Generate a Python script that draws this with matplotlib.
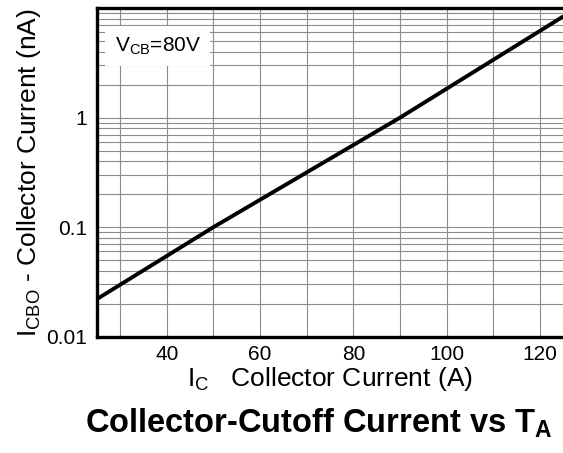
import matplotlib

matplotlib.use("Agg")
import matplotlib.pyplot as plt
from matplotlib.ticker import FixedLocator, LogLocator, NullFormatter

plt.rcParams["font.family"] = ["Liberation Sans", "DejaVu Sans"]
plt.rcParams["mathtext.fontset"] = "custom"
plt.rcParams["mathtext.rm"] = "Liberation Sans"
plt.rcParams["mathtext.it"] = "Liberation Sans:italic"
plt.rcParams["mathtext.bf"] = "Liberation Sans:bold"

# values
collector_current = [25, 50, 90, 125]
cutoff_current = [0.022, 0.1, 1.0, 8.4]
x_labels = [40, 60, 80, 100, 120]
x_grid = [30, 50, 70, 90, 110]
y_labels = [0.01, 0.1, 1]
y_label_text = ["0.01", "0.1", "1"]

fig = plt.figure(figsize=(5.63, 4.53), dpi=100)
ax = fig.add_axes([0.1718, 0.2567, 0.8290, 0.7256])

ax.plot(collector_current, cutoff_current, color="black", linewidth=2.8,
        solid_capstyle="butt", zorder=3)

ax.set_yscale("log")
ax.set_xlim(25, 125)
ax.set_ylim(0.01, 10)

ax.set_xticks(x_labels)
ax.xaxis.set_minor_locator(FixedLocator(x_grid))
ax.set_yticks(y_labels)
ax.set_yticklabels(y_label_text)
ax.yaxis.set_minor_locator(LogLocator(base=10, subs=range(2, 10)))
ax.yaxis.set_minor_formatter(NullFormatter())

ax.grid(True, which="both", color="#8c8c8c", linewidth=0.8)
ax.tick_params(which="both", length=0, labelsize=15)
ax.tick_params(axis="x", pad=6)
ax.tick_params(axis="y", pad=7)

for side in ["left", "top", "bottom"]:
    ax.spines[side].set_linewidth(2.4)
ax.spines["right"].set_visible(False)

ax.text(0.131, 0.884, r"V$_\mathrm{CB}$=80V", transform=ax.transAxes,
        fontsize=15, ha="center", va="center", zorder=4,
        bbox=dict(boxstyle="square,pad=0.45", facecolor="white", edgecolor="none"))

ax.set_ylabel(r"I$_\mathrm{CBO}$ - Collector Current (nA)", fontsize=19, labelpad=2)
ax.set_xlabel(r"I$_\mathrm{C}$   Collector Current (A)", fontsize=19, labelpad=1)

fig.text(0.567, 0.045, r"Collector-Cutoff Current vs T$_\mathbf{A}$",
         fontsize=23.5, fontweight="bold", ha="center", va="baseline")

fig.savefig("out.png", dpi=100)
plt.close(fig)
